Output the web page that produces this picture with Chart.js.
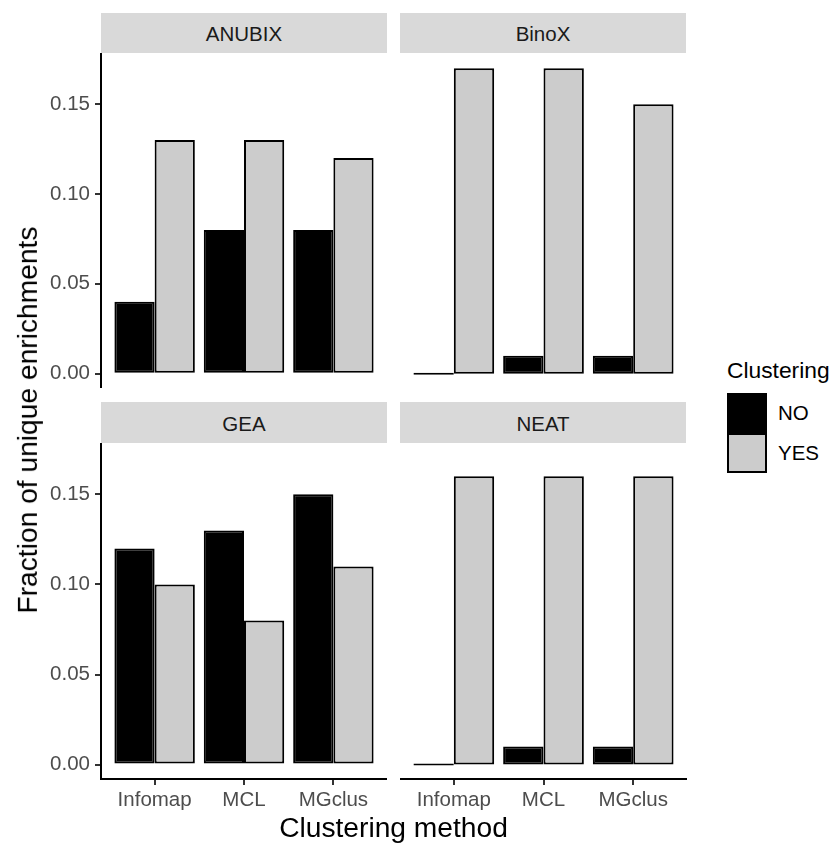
<!DOCTYPE html>
<html>
<head>
<meta charset="utf-8">
<script src="https://cdn.jsdelivr.net/npm/chart.js@4.4.1/dist/chart.umd.min.js"></script>
<style>
  html, body { margin:0; padding:0; background:#ffffff; }
  body { width:834px; height:844px; position:relative; overflow:hidden; font-family:'Liberation Sans', Arial, sans-serif; }
  .abs { position:absolute; }
  canvas.abs { display:block; }
  .strip { position:absolute; background:#d9d9d9; color:#1a1a1a; font-size:20.5px; text-align:center; box-sizing:border-box; }
  .txt { position:absolute; white-space:nowrap; line-height:1; }
</style>
</head>
<body>
<script>
// ---- data ----
const categories = ['Infomap', 'MCL', 'MGclus'];
const facets = ['ANUBIX', 'BinoX', 'GEA', 'NEAT'];
const seriesNames = ['NO', 'YES'];
const anubixNo  = [0.04, 0.08, 0.08];
const anubixYes = [0.13, 0.13, 0.12];
const binoxNo   = [0.00, 0.01, 0.01];
const binoxYes  = [0.17, 0.17, 0.15];
const geaNo     = [0.12, 0.13, 0.15];
const geaYes    = [0.10, 0.08, 0.11];
const neatNo    = [0.00, 0.01, 0.01];
const neatYes   = [0.16, 0.16, 0.16];
const yTicks    = [0.00, 0.05, 0.10, 0.15];
const yTitle = 'Fraction of unique enrichments';
const xTitle = 'Clustering method';
const legendTitle = 'Clustering';

// ---- styling ----
const FONT = "'Liberation Sans', Arial, sans-serif";
const fills = ['#000000', '#cccccc'];
const Y_MIN = -0.0080, Y_MAX = 0.1785;

const panels = [
  { name: facets[0], no: anubixNo, yes: anubixYes, left: 0,   top: 53,  w: 387, h: 335, showY: true,  showX: false, strip: [101, 13, 286, 40] },
  { name: facets[1], no: binoxNo,  yes: binoxYes,  left: 400, top: 53,  w: 287, h: 335, showY: false, showX: false, strip: [400, 13, 286, 40] },
  { name: facets[2], no: geaNo,    yes: geaYes,    left: 0,   top: 443, w: 387, h: 376, showY: true,  showX: true,  strip: [101, 402, 286, 41] },
  { name: facets[3], no: neatNo,   yes: neatYes,   left: 400, top: 443, w: 287, h: 376, showY: false, showX: true,  strip: [400, 402, 286, 41] }
];

function addDiv(cls, text, css) {
  const d = document.createElement('div');
  d.className = cls;
  d.textContent = text;
  Object.assign(d.style, css);
  document.body.appendChild(d);
  return d;
}

panels.forEach(p => {
  // strip
  const [sx, sy, sw, sh] = p.strip;
  addDiv('strip', p.name, { left: sx + 'px', top: sy + 'px', width: sw + 'px', height: sh + 'px', lineHeight: sh + 'px', paddingTop: '1px' });

  const c = document.createElement('canvas');
  c.className = 'abs';
  c.width = p.w; c.height = p.h;
  c.style.left = p.left + 'px'; c.style.top = p.top + 'px';
  c.style.width = p.w + 'px'; c.style.height = p.h + 'px';
  document.body.appendChild(c);

  const toPts = arr => arr.map((v, i) => ({ x: i + 1, y: v }));

  new Chart(c.getContext('2d'), {
    type: 'bar',
    data: {
      datasets: [
        { label: seriesNames[0], data: toPts(p.no),  backgroundColor: fills[0], borderColor: '#000000', borderWidth: 2, borderSkipped: false, minBarLength: 2, categoryPercentage: 0.9, barPercentage: 1.0 },
        { label: seriesNames[1], data: toPts(p.yes), backgroundColor: fills[1], borderColor: '#000000', borderWidth: 2, borderSkipped: false, categoryPercentage: 0.9, barPercentage: 1.0 }
      ]
    },
    options: {
      responsive: false,
      animation: false,
      devicePixelRatio: 1,
      layout: { padding: 0 },
      plugins: { legend: { display: false }, tooltip: { enabled: false }, title: { display: false } },
      scales: {
        x: {
          type: 'linear', min: 0.4, max: 3.6, offset: false, display: p.showX,
          afterBuildTicks: s => { s.ticks = categories.map((c, i) => ({ value: i + 1 })); },
          afterFit: s => { if (p.showX) { s.height = 40; } s.paddingLeft = 0; s.paddingRight = 0; },
          ticks: { callback: v => categories[Math.round(v) - 1], autoSkip: false, maxRotation: 0, minRotation: 0, color: '#4d4d4d', font: { family: FONT, size: 20.5 }, padding: 3 },
          grid: { offset: false, drawOnChartArea: false, drawTicks: true, tickLength: 6, color: '#333333', lineWidth: 2 },
          border: { display: true, color: '#000000', width: 2 }
        },
        y: {
          type: 'linear', min: Y_MIN, max: Y_MAX, display: p.showY,
          afterBuildTicks: s => { s.ticks = yTicks.map(v => ({ value: v })); },
          afterFit: s => { if (p.showY) { s.width = 101; } s.paddingTop = 0; s.paddingBottom = 0; },
          ticks: { callback: v => Number(v).toFixed(2), color: '#4d4d4d', font: { family: FONT, size: 20.5 }, padding: 5 },
          grid: { drawOnChartArea: false, drawTicks: true, tickLength: 6, color: '#333333', lineWidth: 2 },
          border: { display: true, color: '#000000', width: 2 }
        }
      }
    }
  });
});

// axis titles
const F_T = 28.2;
addDiv('txt', xTitle, { left: (393.5 - 200) + 'px', width: '400px', textAlign: 'center', top: (837 - 0.8465 * F_T) + 'px', fontSize: F_T + 'px', color: '#000' });
addDiv('txt', yTitle, { left: (27.1 - 250) + 'px', width: '500px', height: F_T + 'px', textAlign: 'center', top: (420 - F_T / 2) + 'px', fontSize: F_T + 'px', color: '#000', transform: 'rotate(-90deg)' });

// legend
const F_L = 22.8, F_K = 20.5;
addDiv('txt', legendTitle, { left: '727px', top: (378 - 0.8465 * F_L) + 'px', fontSize: F_L + 'px', color: '#000' });
const keyTops = [393, 433];
seriesNames.forEach((n, i) => {
  const k = document.createElement('div');
  Object.assign(k.style, { position: 'absolute', left: '727px', top: keyTops[i] + 'px', width: '40px', height: '40px', background: fills[i], border: '2px solid #000', boxSizing: 'border-box' });
  document.body.appendChild(k);
  const centre = keyTops[i] + 20.5;
  addDiv('txt', n, { left: '778px', top: (centre + 0.358 * F_K - 0.8465 * F_K) + 'px', fontSize: F_K + 'px', color: '#000' });
});
</script>
</body>
</html>
